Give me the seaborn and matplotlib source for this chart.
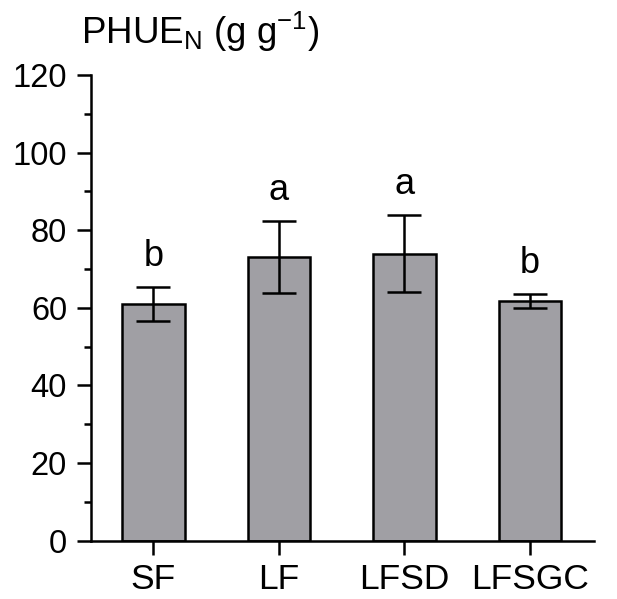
import matplotlib
matplotlib.use("Agg")
import matplotlib.pyplot as plt
import seaborn as sns
import pandas as pd
from matplotlib.ticker import MultipleLocator

categories = ["SF", "LF", "LFSD", "LFSGC"]
means = [61.0, 73.2, 74.0, 61.8]
sds = [4.4, 9.3, 10.0, 1.8]
letters = ["b", "a", "a", "b"]

sns.set_style("white")
plt.rcParams["font.family"] = ["Liberation Sans", "DejaVu Sans"]
plt.rcParams["mathtext.fontset"] = "custom"
plt.rcParams["mathtext.rm"] = "Liberation Sans"
plt.rcParams["mathtext.it"] = "Liberation Sans"
plt.rcParams["text.color"] = "black"
plt.rcParams["xtick.color"] = "black"
plt.rcParams["ytick.color"] = "black"
plt.rcParams["axes.unicode_minus"] = False

df = pd.DataFrame({"cat": categories, "val": means})

fig = plt.figure(figsize=(6.17, 5.99), dpi=100)
ax = fig.add_axes([0.147, 0.0973, 0.8157, 0.7775])

sns.barplot(data=df, x="cat", y="val", order=categories, color="#A09FA4",
            saturation=1, width=0.5, edgecolor="black", linewidth=1.8,
            errorbar=None, ax=ax)

xs = list(range(len(categories)))
ax.errorbar(xs, means, yerr=sds, fmt="none", ecolor="black",
            elinewidth=1.8, capsize=12, capthick=1.8, zorder=5)

for x, m, s, l in zip(xs, means, sds, letters):
    ax.annotate(l, (x, m + s), xytext=(0, 15), textcoords="offset points",
                ha="center", va="baseline", fontsize=26, color="black")

ax.set_xlim(-0.5, 3.51)
ax.set_ylim(0, 120)
ax.yaxis.set_major_locator(MultipleLocator(20))
ax.yaxis.set_minor_locator(MultipleLocator(10))
ax.set_xlabel("")
ax.set_ylabel("")

for side in ["top", "right"]:
    ax.spines[side].set_visible(False)
for side in ["left", "bottom"]:
    ax.spines[side].set_linewidth(1.8)
    ax.spines[side].set_color("black")

ax.tick_params(axis="y", which="major", length=10, width=1.8, labelsize=23.5,
               left=True, direction="out", pad=7, color="black", labelcolor="black")
ax.tick_params(axis="y", which="minor", length=5, width=1.8, left=True,
               direction="out", color="black")
ax.tick_params(axis="x", which="major", length=10, width=1.8, labelsize=25.5,
               bottom=True, direction="out", pad=6, color="black", labelcolor="black")

fig.text(81 / 617, 1 - 44 / 599, r"PHUE$_{\mathregular{N}}$ (g g$^{\mathregular{-1}}$)",
         fontsize=26.5, ha="left", va="baseline", color="black")

fig.savefig("out.png", dpi=100)
